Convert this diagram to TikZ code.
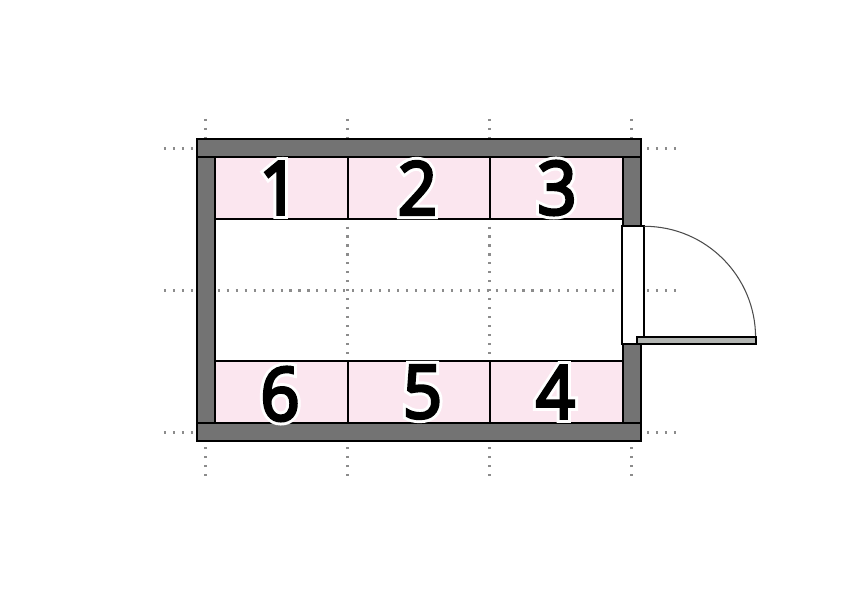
\documentclass[tikz,border=0pt]{standalone}
\usepackage{fontspec}
\setmainfont{Open Sans}[FakeBold=4,FakeStretch=0.93]
\newfontfamily\halofont{Open Sans}[FakeBold=12,FakeStretch=0.93]
\definecolor{wallgray}{HTML}{737373}
\definecolor{seatpink}{HTML}{FBE6EF}
\definecolor{leafgray}{HTML}{B2B5B2}
\definecolor{dotgray}{HTML}{8C8C8C}
\newcommand{\seatnum}[1]{\fontsize{21}{21}\selectfont\rlap{\halofont\textcolor{white}{#1}}#1}
\tikzset{
  wall/.style={draw=black, fill=wallgray, line width=0.55pt},
  seat/.style={draw=black, fill=seatpink, line width=0.45pt},
  griddots/.style={dotgray, line width=0.6pt, dash pattern=on 0.6pt off 1.95pt},
}

\begin{document}
\begin{tikzpicture}
    \useasboundingbox (0,0) rectangle (8.42,5.95);
    \fill[white] (0,0) rectangle (8.42,5.95);

    % grid lines under everything
    \foreach \x in {2.055,3.475,4.895,6.315} {
        \draw[griddots] (\x,4.76) -- (\x,2.34);
        \draw[griddots] (\x,1.19) -- (\x,1.55);
    }
    \foreach \y in {4.465,3.045,1.625} {
        \draw[griddots] (1.64,\y) -- (6.23,\y);
        \draw[griddots] (6.47,\y) -- (6.76,\y);
    }

    % seats
    \foreach \x in {2.147,3.48,4.90} {
        \pgfmathsetmacro{\xend}{\x<3 ? 3.48 : (\x<4 ? 4.90 : 6.233)}
        \draw[seat] (\x,3.76) rectangle (\xend,4.38);
        \draw[seat] (\x,1.717) rectangle (\xend,2.34);
    }

    % walls
    \draw[wall] (1.97,4.38) rectangle (2.147,1.717);
    \draw[wall] (6.233,4.38) rectangle (6.407,3.69);
    \draw[wall] (6.233,2.51) rectangle (6.407,1.717);
    \draw[wall] (1.97,4.56) rectangle (6.407,4.38);
    \draw[wall] (1.97,1.717) rectangle (6.407,1.543);

    % door
    \draw[fill=white, line width=0.55pt] (6.217,3.687) rectangle (6.443,2.507);
    \draw[line width=0.3pt, black!70] (6.443,3.687) arc (90:0:1.113);
    \draw[fill=leafgray, line width=0.55pt] (6.373,2.58) rectangle (7.556,2.507);

    \node[inner sep=0pt] (num1) at (2.79,4.07) {\seatnum{1}};
    \node[inner sep=0pt] (num2) at (4.175,4.07) {\seatnum{2}};
    \node[inner sep=0pt] (num3) at (5.57,4.07) {\seatnum{3}};
    \node[inner sep=0pt] (num4) at (5.555,2.03) {\seatnum{4}};
    \node[inner sep=0pt] (num5) at (4.225,2.03) {\seatnum{5}};
    \node[inner sep=0pt] (num6) at (2.80,2.01) {\seatnum{6}};
\end{tikzpicture}
\end{document}
